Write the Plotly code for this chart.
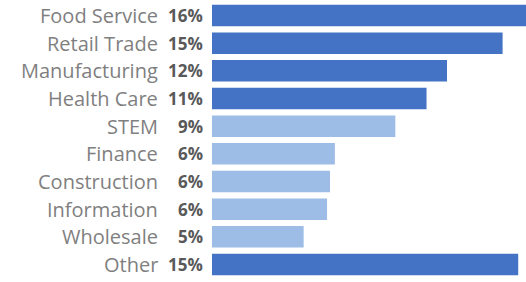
import plotly.graph_objects as go

categories = ["Food Service", "Retail Trade", "Manufacturing", "Health Care", "STEM",
              "Finance", "Construction", "Information", "Wholesale", "Other"]
values = [16.1, 14.9, 12.05, 11.0, 9.4, 6.3, 6.05, 5.9, 4.7, 15.7]
pct_labels = ["16%", "15%", "12%", "11%", "9%", "6%", "6%", "6%", "5%", "15%"]
groups = ["dark", "dark", "dark", "dark", "light", "light", "light", "light", "light", "dark"]

color_map = {"dark": "#4472C4", "light": "#9DBDE6"}
colors = [color_map[g] for g in groups]

fig = go.Figure(go.Bar(
    x=values, y=categories, orientation="h",
    marker=dict(color=colors, line=dict(width=0)),
    width=0.78, hoverinfo="skip",
))

font = "Open Sans, Segoe UI, sans-serif"
for cat, pct in zip(categories, pct_labels):
    fig.add_annotation(x=0, xref="paper", y=cat, yref="y", text=pct,
                       xanchor="right", xshift=-7, showarrow=False,
                       font=dict(family=font, size=17, color="#595959", weight="bold"))
    fig.add_annotation(x=0, xref="paper", y=cat, yref="y", text=cat,
                       xanchor="right", xshift=-52, showarrow=False,
                       font=dict(family=font, size=20, color="#7F7F7F"))

fig.update_yaxes(autorange="reversed", showticklabels=False, showgrid=False,
                 zeroline=False, showline=False)
fig.update_xaxes(range=[0, 16.1], visible=False)
fig.update_layout(width=526, height=282,
                  margin=dict(l=212, r=0, t=0, b=2, autoexpand=False),
                  plot_bgcolor="white", paper_bgcolor="white", showlegend=False,
                  bargap=0.22)
fig.write_html("out.html", config={"responsive": False, "displayModeBar": False},
               post_script="document.body.style.margin='0';document.body.style.overflow='hidden';")
